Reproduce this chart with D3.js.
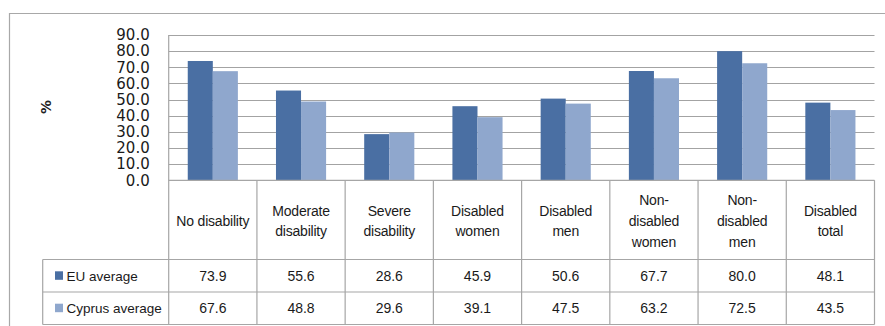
<!DOCTYPE html>
<html>
<head>
<meta charset="utf-8">
<script src="https://cdn.jsdelivr.net/npm/d3@7"></script>
<style>
  html, body { margin: 0; padding: 0; background: #fff; }
  svg { display: block; }
</style>
</head>
<body>
<svg id="chart" width="885" height="326"></svg>
<script>
// Employment rate by disability status: EU average vs Cyprus average
const categories = [
  ["No disability"],
  ["Moderate", "disability"],
  ["Severe", "disability"],
  ["Disabled", "women"],
  ["Disabled", "men"],
  ["Non-", "disabled", "women"],
  ["Non-", "disabled", "men"],
  ["Disabled", "total"]
];
const seriesNames = ["EU average", "Cyprus average"];
const euValues = [73.9, 55.6, 28.6, 45.9, 50.6, 67.7, 80.0, 48.1];
const cyprusValues = [67.6, 48.8, 29.6, 39.1, 47.5, 63.2, 72.5, 43.5];
const yTicks = [0, 10, 20, 30, 40, 50, 60, 70, 80, 90];
const colors = ["#4a6fa3", "#8fa7cd"];

const svg = d3.select("#chart");
const catKeys = categories.map(c => c.join(" "));
const seriesValues = [euValues, cyprusValues];

const plotLeft = 168.7, plotRight = 874.5, plotTop = 35, plotBottom = 180.3;
const tableBottom = 324.5, legendLeft = 42.7;
const rowLines = [259.5, 292];

const gridColor = "#a3a3a3";
const borderColor = "#a6a6a6";

// outer frame (left and top edges)
svg.append("path")
  .attr("d", "M9.5,326 V13.5 H885")
  .attr("fill", "none")
  .attr("stroke", "#a8a8a8")
  .attr("stroke-width", 1.2);

const x0 = d3.scaleBand().domain(catKeys).range([plotLeft, plotRight]).padding(0);
const x1 = d3.scaleBand().domain(seriesNames).range([0, x0.bandwidth()]).paddingInner(0).paddingOuter(0.76);
const y = d3.scaleLinear().domain([0, 90]).range([plotBottom, plotTop]);

// horizontal gridlines
svg.append("g")
  .selectAll("line")
  .data(yTicks)
  .join("line")
  .attr("x1", plotLeft).attr("x2", plotRight)
  .attr("y1", d => Math.round(y(d)) + 0.5).attr("y2", d => Math.round(y(d)) + 0.5)
  .attr("stroke", gridColor)
  .attr("stroke-width", 1.2);

// y axis labels
const yAxis = d3.axisLeft(y).tickValues(yTicks).tickFormat(d3.format(".1f")).tickSize(0).tickPadding(19);
const yg = svg.append("g").attr("transform", `translate(${plotLeft},0)`).call(yAxis);
yg.select(".domain").remove();
yg.selectAll("text")
  .attr("font-family", "DejaVu Sans")
  .attr("font-size", 15)
  .attr("fill", "#1a1a1a");

// axis title
svg.append("text")
  .attr("transform", "translate(46,107) rotate(-90)")
  .attr("text-anchor", "middle")
  .attr("dy", "0.35em")
  .attr("font-family", "DejaVu Sans")
  .attr("font-weight", "bold")
  .attr("font-size", 14)
  .attr("fill", "#222")
  .text("%");

// bars
const groups = svg.append("g")
  .selectAll("g")
  .data(catKeys)
  .join("g")
  .attr("transform", d => `translate(${x0(d)},0)`);

groups.selectAll("rect")
  .data((d, i) => seriesNames.map((s, si) => ({ s, si, v: seriesValues[si][i] })))
  .join("rect")
  .attr("x", d => x1(d.s))
  .attr("width", x1.bandwidth())
  .attr("y", d => y(d.v))
  .attr("height", d => y(0) - y(d.v))
  .attr("fill", d => colors[d.si]);

// y axis line
svg.append("line")
  .attr("x1", plotLeft).attr("x2", plotLeft)
  .attr("y1", plotTop).attr("y2", tableBottom)
  .attr("stroke", borderColor).attr("stroke-width", 1.2);

// data table grid
const table = svg.append("g").attr("stroke", borderColor).attr("stroke-width", 1.2);
table.append("line").attr("x1", plotLeft).attr("x2", plotRight).attr("y1", plotBottom).attr("y2", plotBottom);
rowLines.concat([tableBottom]).forEach(yy => {
  table.append("line").attr("x1", legendLeft).attr("x2", plotRight).attr("y1", yy).attr("y2", yy);
});
table.append("line").attr("x1", legendLeft).attr("x2", legendLeft).attr("y1", rowLines[0]).attr("y2", tableBottom);
catKeys.forEach(k => {
  const xx = x0(k) + x0.bandwidth();
  table.append("line").attr("x1", xx).attr("x2", xx).attr("y1", plotBottom).attr("y2", tableBottom);
});

const tableFont = "Liberation Sans, Arial, sans-serif";

// category labels
const headerCenter = 221;
const lineStep = 20.8;
svg.append("g")
  .selectAll("text")
  .data(categories)
  .join("text")
  .attr("x", (d, i) => x0(catKeys[i]) + x0.bandwidth() / 2)
  .attr("y", headerCenter)
  .attr("text-anchor", "middle")
  .attr("font-family", tableFont)
  .attr("font-size", 14)
  .attr("letter-spacing", "-0.2")
  .attr("fill", "#1a1a1a")
  .each(function(lines) {
    const t = d3.select(this);
    const off = -(lines.length - 1) / 2 * lineStep;
    lines.forEach((ln, li) => {
      t.append("tspan")
        .attr("x", t.attr("x"))
        .attr("y", headerCenter + off + li * lineStep)
        .attr("dy", "0.35em")
        .text(ln);
    });
  });

// value rows and legend keys
const rowCenters = [275.8, 308.2];
seriesNames.forEach((s, si) => {
  const cy = rowCenters[si];
  svg.append("rect")
    .attr("x", 55).attr("y", cy - 4.5)
    .attr("width", 8).attr("height", 8.5)
    .attr("fill", colors[si]);
  svg.append("text")
    .attr("x", 66.5).attr("y", cy)
    .attr("dy", "0.35em")
    .attr("font-family", tableFont)
    .attr("font-size", 13.5)
    .attr("fill", "#1a1a1a")
    .text(s);
  svg.append("g")
    .selectAll("text")
    .data(seriesValues[si])
    .join("text")
    .attr("x", (d, i) => x0(catKeys[i]) + x0.bandwidth() / 2)
    .attr("y", cy)
    .attr("dy", "0.35em")
    .attr("text-anchor", "middle")
    .attr("font-family", tableFont)
    .attr("font-size", 14)
    .attr("fill", "#1a1a1a")
    .text(d => d3.format(".1f")(d));
});
</script>
</body>
</html>
